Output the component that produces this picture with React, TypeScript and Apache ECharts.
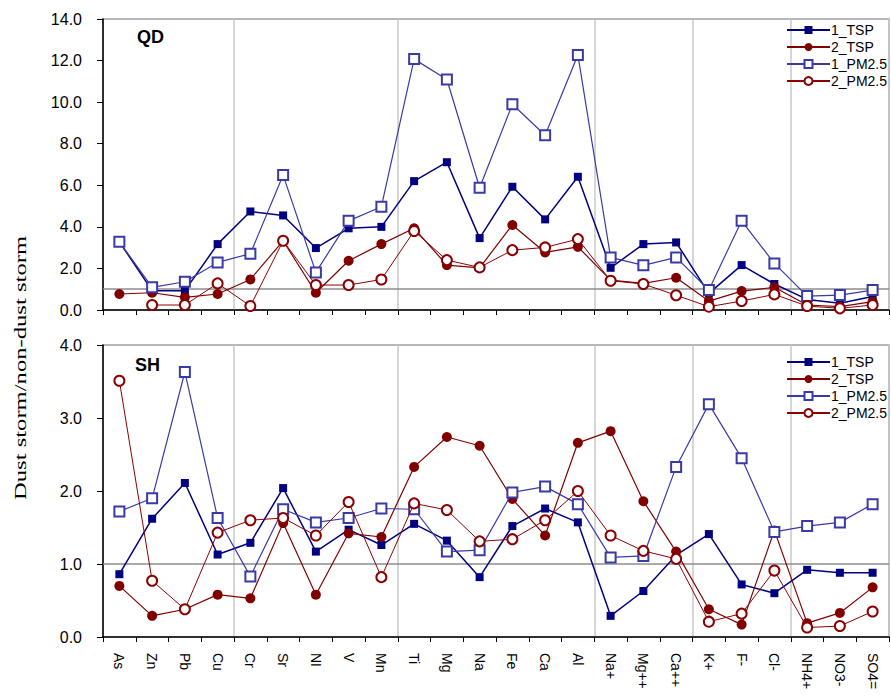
import React, { useEffect, useRef } from 'react';
import * as echarts from 'echarts';

const categories = ['As', 'Zn', 'Pb', 'Cu', 'Cr', 'Sr', 'NI', 'V', 'Mn', 'Ti', 'Mg', 'Na', 'Fe', 'Ca', 'Al', 'Na+', 'Mg++', 'Ca++', 'K+', 'F-', 'Cl-', 'NH4+', 'NO3-', 'SO4='];
const seriesNames = ['1_TSP', '2_TSP', '1_PM2.5', '2_PM2.5'];
const groupBoundaries = [4, 9, 15, 18, 21];

// QD panel
const qdTSP1 = [3.28, 0.93, 0.93, 3.17, 4.74, 4.55, 2.98, 3.93, 4.0, 6.2, 7.11, 3.46, 5.93, 4.36, 6.41, 2.03, 3.17, 3.25, 0.8, 2.16, 1.25, 0.51, 0.32, 0.65];
const qdTSP2 = [0.77, 0.83, 0.61, 0.77, 1.47, 3.33, 0.83, 2.37, 3.17, 3.93, 2.16, 2.03, 4.09, 2.77, 3.04, 1.44, 1.28, 1.55, 0.43, 0.91, 1.09, 0.24, 0.16, 0.4];
const qdPM1 = [3.28, 1.09, 1.36, 2.29, 2.71, 6.49, 1.81, 4.29, 4.97, 12.07, 11.09, 5.88, 9.9, 8.41, 12.27, 2.53, 2.15, 2.53, 0.96, 4.29, 2.24, 0.67, 0.72, 0.96];
const qdPM2 = [null, 0.24, 0.24, 1.28, 0.19, 3.33, 1.2, 1.2, 1.47, 3.8, 2.4, 2.05, 2.88, 3.01, 3.41, 1.41, 1.25, 0.71, 0.16, 0.43, 0.75, 0.19, 0.08, 0.24];

// SH panel
const shTSP1 = [0.86, 1.62, 2.11, 1.13, 1.29, 2.04, 1.17, 1.47, 1.26, 1.55, 1.32, 0.82, 1.52, 1.76, 1.57, 0.29, 0.63, 1.12, 1.41, 0.72, 0.6, 0.92, 0.88, 0.88];
const shTSP2 = [0.7, 0.29, 0.38, 0.58, 0.53, 1.56, 0.58, 1.42, 1.37, 2.33, 2.74, 2.62, 1.89, 1.39, 2.66, 2.82, 1.86, 1.17, 0.38, 0.17, 1.46, 0.19, 0.33, 0.68];
const shPM1 = [1.72, 1.9, 3.63, 1.63, 0.83, 1.75, 1.57, 1.63, 1.76, 1.75, 1.17, 1.19, 1.98, 2.06, 1.82, 1.09, 1.11, 2.33, 3.19, 2.45, 1.44, 1.52, 1.57, 1.82];
const shPM2 = [3.51, 0.77, 0.38, 1.43, 1.6, 1.63, 1.39, 1.85, 0.82, 1.83, 1.74, 1.31, 1.34, 1.6, 2.0, 1.39, 1.18, 1.07, 0.21, 0.32, 0.91, 0.13, 0.15, 0.35];

const SANS = '"Liberation Sans", Arial, sans-serif';

const styles = [
  { symbol: 'rect', symbolSize: 8, color: '#000080', width: 1.5 },
  { symbol: 'circle', symbolSize: 10, color: '#800000', width: 1.2 },
  { symbol: 'emptyRect', symbolSize: 10, color: '#3a3aa6', width: 1.2 },
  { symbol: 'emptyCircle', symbolSize: 10, color: '#8b0000', width: 1 },
];

function makeSeries(idx: number, data: (number | null)[][]) {
  return data.map((d, i) => {
    const s = styles[i];
    const obj: any = {
      name: seriesNames[i],
      type: 'line',
      xAxisIndex: idx,
      yAxisIndex: idx,
      data: d,
      symbol: s.symbol,
      symbolSize: s.symbolSize,
      showAllSymbol: true,
      lineStyle: { color: s.color, width: s.width },
      itemStyle: { color: s.color, borderColor: s.color, borderWidth: s.symbol.startsWith('empty') ? 1.2 : 0 },
      emphasis: { disabled: true },
      z: 3 + i,
    };
    if (i === 0) {
      obj.markLine = {
        silent: true,
        symbol: ['none', 'none'],
        label: { show: false },
        lineStyle: { color: '#8c8c8c', width: 1.5, type: 'solid' },
        data: [{ yAxis: 1 }],
        z: 1,
      };
    }
    return obj;
  });
}

export default function App() {
  const ref = useRef<HTMLDivElement>(null);
  useEffect(() => {
    document.body.style.margin = '0';
    if (!ref.current) return;
    const chart = echarts.init(ref.current, undefined, { renderer: 'svg' });
    const xAxisBase = (gridIndex: number, showLabel: boolean) => ({
      type: 'category',
      gridIndex,
      data: categories,
      boundaryGap: true,
      axisLine: { show: true, lineStyle: { color: '#000', width: 1.5 } },
      axisTick: { show: true, inside: false, length: 5, interval: 0, lineStyle: { color: '#000', width: 1 } },
      axisLabel: {
        show: showLabel,
        interval: 0,
        rotate: -90,
        margin: 16,
        color: '#000',
        fontFamily: SANS,
        fontSize: 14,
      },
      splitLine: {
        show: true,
        interval: (index: number) => groupBoundaries.includes(index),
        lineStyle: { color: '#c8c8c8', width: 1.5 },
      },
    });
    const yAxisBase = (gridIndex: number, max: number, interval: number) => ({
      type: 'value',
      gridIndex,
      min: 0,
      max,
      interval,
      axisLine: { show: true, lineStyle: { color: '#000', width: 1.5 } },
      axisTick: { show: true, inside: false, length: 6, lineStyle: { color: '#000' } },
      axisLabel: {
        formatter: (v: number) => v.toFixed(1),
        color: '#000',
        fontFamily: SANS,
        fontSize: 16,
        margin: 21,
      },
      splitLine: { show: false },
    });
    const legendBase = (top: number) => ({
      orient: 'vertical',
      left: 786,
      top,
      data: seriesNames,
      itemWidth: 43,
      itemHeight: 10,
      itemGap: 3,
      padding: 0,
      selectedMode: false,
      textStyle: { color: '#000', fontFamily: SANS, fontSize: 14, padding: [0, 0, 0, -4] },
    });
    chart.setOption({
      animation: false,
      backgroundColor: '#fff',
      grid: [
        { left: 103, top: 19, width: 786, height: 291, show: true, borderColor: '#a0a0a0', borderWidth: 1.5, backgroundColor: 'transparent' },
        { left: 103, top: 345, width: 786, height: 292, show: true, borderColor: '#a0a0a0', borderWidth: 1.5, backgroundColor: 'transparent' },
      ],
      xAxis: [xAxisBase(0, false), xAxisBase(1, true)],
      yAxis: [yAxisBase(0, 14, 2), yAxisBase(1, 4, 1)],
      legend: [legendBase(23), legendBase(355)],
      graphic: [
        {
          type: 'text',
          left: 137,
          top: 28,
          style: { text: 'QD', font: `bold 18px ${SANS}`, fill: '#000' },
        },
        {
          type: 'text',
          left: 135,
          top: 356,
          style: { text: 'SH', font: `bold 18px ${SANS}`, fill: '#000' },
        },
        {
          type: 'text',
          x: 20,
          y: 368,
          rotation: Math.PI / 2,
          scaleX: 1.45,
          style: {
            text: 'Dust storm/non-dust storm',
            font: '17px "Liberation Serif", "Times New Roman", serif',
            fill: '#000',
            align: 'center',
            verticalAlign: 'middle',
          },
        },
      ],
      series: [
        ...makeSeries(0, [qdTSP1, qdTSP2, qdPM1, qdPM2]),
        ...makeSeries(1, [shTSP1, shTSP2, shPM1, shPM2]),
      ],
    });
    return () => chart.dispose();
  }, []);
  return <div ref={ref} style={{ width: 891, height: 699 }} />;
}
